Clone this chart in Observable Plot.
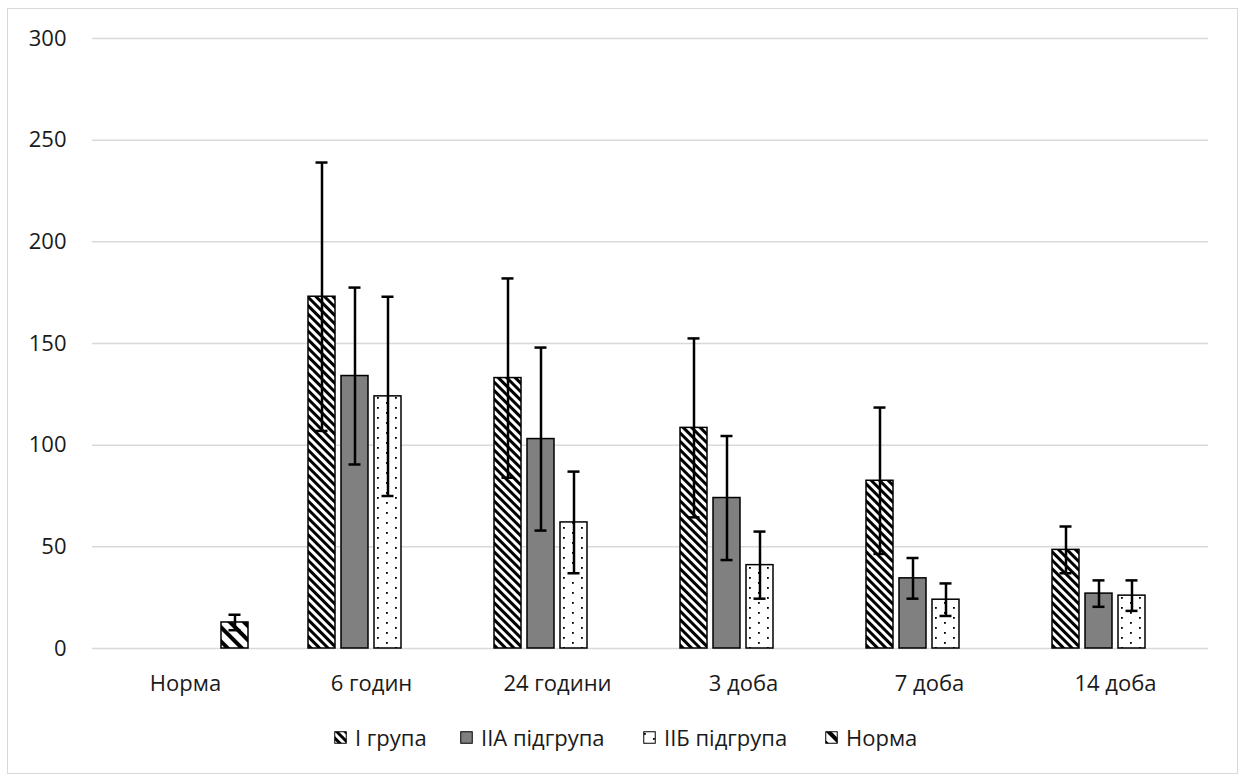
<!DOCTYPE html>
<html>
<head>
<meta charset="utf-8">
<script src="https://cdn.jsdelivr.net/npm/d3@7"></script>
<script src="https://cdn.jsdelivr.net/npm/@observablehq/plot@0.6"></script>
<style>
  html, body { margin: 0; padding: 0; background: #fff; }
  #wrap { position: relative; width: 1242px; height: 776px; font-family: "Open Sans", sans-serif; color: #1a1a1a; }
  #frame { position: absolute; left: 7px; top: 8px; width: 1231px; height: 766px; border: 1.5px solid #d9d9d9; box-sizing: border-box; }
  #chart { position: absolute; left: 0; top: 0; }
  .li { position: absolute; top: 722px; font-size: 22px; line-height: 30px; white-space: nowrap; display: flex; align-items: center; }
  .li svg { margin-right: 8px; }
</style>
</head>
<body>
<svg width="0" height="0" style="position:absolute">
  <defs>
    <pattern id="patI" patternUnits="userSpaceOnUse" width="6" height="6" patternTransform="rotate(-45)">
      <rect width="6" height="6" fill="#fff"/>
      <rect width="3" height="6" fill="#000"/>
    </pattern>
    <pattern id="patN" patternUnits="userSpaceOnUse" width="10" height="10" patternTransform="rotate(-45)">
      <rect width="10" height="10" fill="#fff"/>
      <rect width="4" height="10" fill="#000"/>
    </pattern>
    <pattern id="patB" patternUnits="userSpaceOnUse" width="18" height="10">
      <rect width="18" height="10" fill="#fff"/>
      <rect x="1" y="2" width="1.8" height="1.8" fill="#000"/>
      <rect x="10" y="7" width="1.8" height="1.8" fill="#000"/>
    </pattern>
  </defs>
</svg>
<div id="wrap">
  <div id="frame"></div>
  <div id="chart"></div>
  <div id="legend"></div>
</div>
<script>
// ---- data ----
const categories = ["Норма", "6 годин", "24 години", "3 доба", "7 доба", "14 доба"];
const seriesNames = ["I група", "IIA підгрупа", "IIБ підгрупа", "Норма"];
const groupI      = [null, 173, 133, 108.5, 82.5, 48.5];
const groupIErr   = [null, 66, 49, 44, 36, 11.5];
const groupIIA    = [null, 134, 103, 74, 34.5, 27];
const groupIIAErr = [null, 43.5, 45, 30.5, 10, 6.5];
const groupIIB    = [null, 124, 62, 41, 24, 26];
const groupIIBErr = [null, 49, 25, 16.5, 8, 7.5];
const norm        = [12.8, null, null, null, null, null];
const normErr     = [3.8, null, null, null, null, null];
const yTicks = [0, 50, 100, 150, 200, 250, 300];

// ---- styles ----
const fills = {
  "I група": "url(#patI)",
  "IIA підгрупа": "#808080",
  "IIБ підгрупа": "url(#patB)",
  "Норма": "url(#patN)"
};

const valueSets = [
  [groupI, groupIErr],
  [groupIIA, groupIIAErr],
  [groupIIB, groupIIBErr],
  [norm, normErr]
];

const rows = [];
seriesNames.forEach((s, si) => {
  const [vals, errs] = valueSets[si];
  categories.forEach((c, ci) => {
    if (vals[ci] != null) {
      rows.push({category: c, series: s, value: vals[ci], low: vals[ci] - errs[ci], high: vals[ci] + errs[ci]});
    }
  });
});

const barMarks = seriesNames.map(s =>
  Plot.barY(rows.filter(d => d.series === s), {
    fx: "category", x: "series", y: "value",
    fill: fills[s], stroke: "#000", strokeWidth: 1.5, inset: 0
  })
);

const chart = Plot.plot({
  width: 1242,
  height: 700,
  marginLeft: 91,
  marginRight: 33,
  marginTop: 38,
  marginBottom: 52,
  style: {fontFamily: "'Open Sans', sans-serif", fontSize: "22px", color: "#1a1a1a", background: "transparent"},
  fx: {domain: categories, padding: 0, axis: "bottom", tickSize: 0, tickPadding: 27, label: null},
  x: {domain: seriesNames, paddingInner: 0.179, paddingOuter: 0.87, axis: null},
  y: {domain: [0, 300], ticks: yTicks, tickSize: 0, tickPadding: 26, label: null},
  marks: [
    Plot.ruleY(yTicks, {stroke: "#d9d9d9", strokeWidth: 1.5}),
    ...barMarks,
    Plot.ruleX(rows, {fx: "category", x: "series", y1: "low", y2: "high", stroke: "#000", strokeWidth: 2.5}),
    Plot.tickY(rows, {fx: "category", x: "series", y: "high", stroke: "#000", strokeWidth: 2.5, insetLeft: 7.5, insetRight: 7.5}),
    Plot.tickY(rows, {fx: "category", x: "series", y: "low", stroke: "#000", strokeWidth: 2.5, insetLeft: 7.5, insetRight: 7.5})
  ]
});
document.getElementById("chart").appendChild(chart);

// ---- legend ----
const legendLeft = [334, 460, 643, 825];
const legend = document.getElementById("legend");
seriesNames.forEach((s, i) => {
  const item = document.createElement("div");
  item.className = "li";
  item.style.left = legendLeft[i] + "px";
  item.innerHTML = `<svg width="13" height="13"><rect x="0.75" y="0.75" width="11.5" height="11.5" fill="${fills[s]}" stroke="#000" stroke-width="1"/></svg><span>${s}</span>`;
  legend.appendChild(item);
});
</script>
</body>
</html>
